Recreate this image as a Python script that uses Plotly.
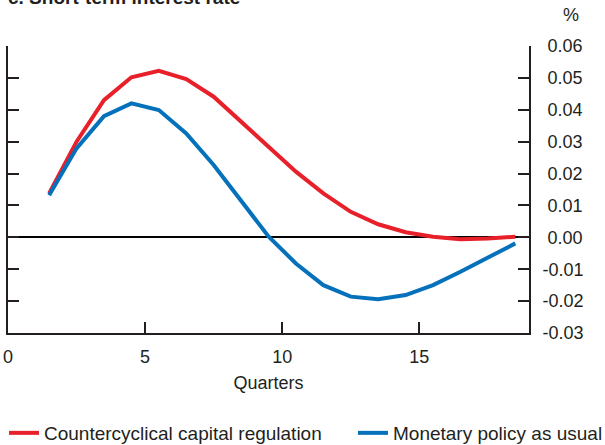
import plotly.graph_objects as go

quarters = [1.5, 2.5, 3.5, 4.5, 5.5, 6.5, 7.5, 8.5, 9.5, 10.5, 11.5, 12.5, 13.5, 14.5, 15.5, 16.5, 17.5, 18.5]
capital_regulation = [0.0138, 0.0300, 0.0430, 0.0502, 0.0522, 0.0496, 0.0441, 0.0364, 0.0284, 0.0206,
                      0.0138, 0.0080, 0.0041, 0.0016, 0.0002, -0.0006, -0.0004, 0.0002]
monetary_policy = [0.0132, 0.0279, 0.0380, 0.0420, 0.0399, 0.0326, 0.0227, 0.0117, 0.0003, -0.0082,
                   -0.0150, -0.0186, -0.0194, -0.0181, -0.0150, -0.0108, -0.0063, -0.0019]

x_tickvals = [0, 5, 10, 15]
x_ticktext = ["0", "5", "10", "15"]
y_tickvals = [-0.03, -0.02, -0.01, 0.0, 0.01, 0.02, 0.03, 0.04, 0.05, 0.06]
y_ticktext = ["-0.03", "-0.02", "-0.01", "\u20080.00", "\u20080.01", "\u20080.02",
              "\u20080.03", "\u20080.04", "\u20080.05", "\u20080.06"]

RED = "#e8202a"
BLUE = "#0571bb"
AX = "#231f20"
FONT = "Liberation Sans, Arial, sans-serif"

L, R, T, B = 8, 76, 46, 112
W, H = 605, 445
PW, PH = W - L - R, H - T - B


def px_x(px):
    return (px - L) / PW


def px_y(py):
    return (H - B - py) / PH


fig = go.Figure()
fig.add_trace(go.Scatter(x=quarters, y=capital_regulation, mode="lines",
                         name="Countercyclical capital regulation",
                         line=dict(color=RED, width=4), legend="legend"))
fig.add_trace(go.Scatter(x=quarters, y=monetary_policy, mode="lines",
                         name="Monetary policy as usual",
                         line=dict(color=BLUE, width=4), legend="legend2"))
# invisible trace to activate right axis
fig.add_trace(go.Scatter(x=[quarters[0]], y=[monetary_policy[0]], yaxis="y2",
                         mode="markers", marker=dict(opacity=0), showlegend=False,
                         hoverinfo="skip"))

legend_common = dict(orientation="h", xref="container", yref="container",
                     xanchor="left", y=1 - 433 / H, yanchor="middle",
                     font=dict(size=19, color=AX), bgcolor="rgba(0,0,0,0)")

fig.update_layout(
    width=W, height=H,
    margin=dict(l=L, r=R, t=T, b=B, autoexpand=False),
    paper_bgcolor="white", plot_bgcolor="white",
    font=dict(family=FONT, size=18, color=AX),
    showlegend=True,
    legend=dict(x=4 / W, **legend_common),
    legend2=dict(x=353 / W, **legend_common),
    xaxis=dict(range=[0, 19], showgrid=False, zeroline=False, automargin=False,
               showline=True, linecolor=AX, linewidth=2,
               ticks="inside", ticklen=11, tickwidth=2, tickcolor=AX,
               tickvals=x_tickvals, ticktext=x_ticktext,
               tickfont=dict(size=18, color=AX), ticklabelstandoff=6,
               title=dict(text="Quarters", font=dict(size=18, color=AX), standoff=11)),
    yaxis=dict(range=[-0.03, 0.06], showgrid=False, automargin=False,
               zeroline=True, zerolinecolor="#000000", zerolinewidth=1.5,
               showline=True, linecolor=AX, linewidth=2,
               ticks="inside", ticklen=11, tickwidth=2, tickcolor=AX,
               tickvals=y_tickvals, showticklabels=False),
    yaxis2=dict(range=[-0.03, 0.06], overlaying="y", side="right", anchor="x",
                showgrid=False, zeroline=False, automargin=False,
                showline=True, linecolor=AX, linewidth=2,
                ticks="inside", ticklen=11, tickwidth=2, tickcolor=AX,
                tickvals=y_tickvals, ticktext=y_ticktext,
                tickfont=dict(size=18, color=AX), ticklabelstandoff=8),
)

fig.add_annotation(text="%", xref="paper", yref="paper",
                   x=px_x(581), xanchor="right", y=px_y(15), yanchor="middle",
                   showarrow=False, font=dict(size=18, color=AX))
fig.add_annotation(text="<b>c. Short-term interest rate</b>", xref="paper", yref="paper",
                   x=px_x(6), xanchor="left", y=px_y(10), yanchor="bottom",
                   showarrow=False, font=dict(size=19, color=AX))

fig.write_html("out.html", config={"displayModeBar": False},
               post_script="document.body.style.margin='0';")
